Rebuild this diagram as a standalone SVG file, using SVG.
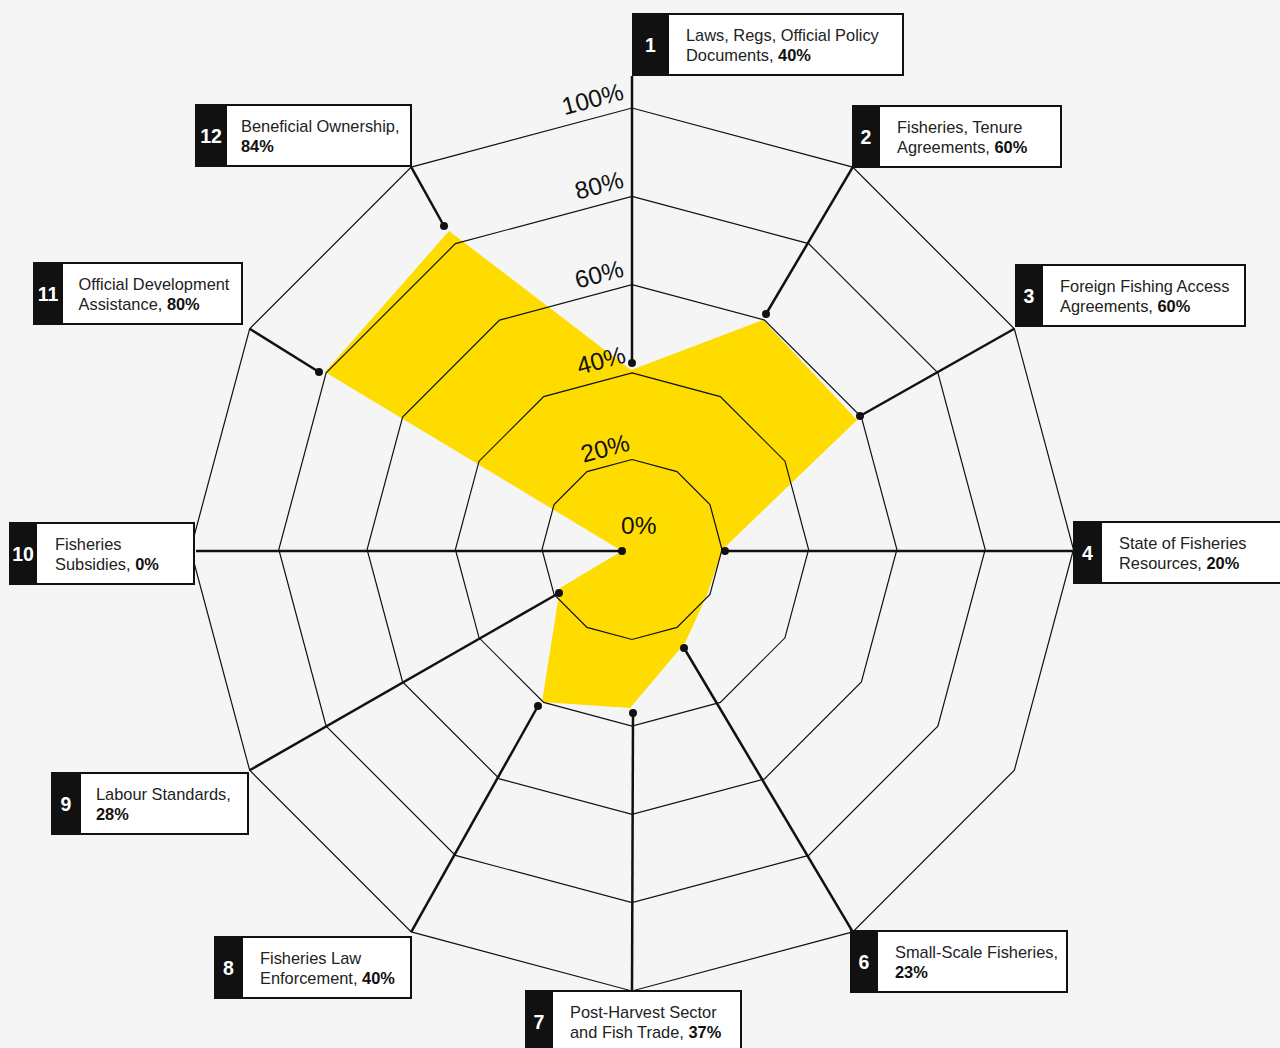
<svg xmlns="http://www.w3.org/2000/svg" width="1280" height="1048" viewBox="0 0 1280 1048">
<style>
.ring{fill:none;stroke:#111;stroke-width:1.2}
.lead{stroke:#111;stroke-width:2.5;fill:none}
.dot{fill:#111}
.bx{fill:#fff;stroke:#111;stroke-width:2}
.nb{fill:#111}
.nt{font-family:"Liberation Sans",Arial,sans-serif;font-weight:bold;font-size:19.5px;fill:#fff;text-anchor:middle}
.lt{font-family:"Liberation Sans",Arial,sans-serif;font-size:16.4px;fill:#222}
.lt tspan.b{font-weight:bold;fill:#111}
.pc{font-family:"Liberation Sans",Arial,sans-serif;font-size:24.5px;fill:#111}
</style>
<rect x="0" y="0" width="1280" height="1048" fill="#f5f5f5"/>
<polygon id="data-area" fill="#ffdc00" points="631,370 763,320 857,420 722,550 707,595 685,643 630,708 542,702 560,588 622,551 325,372 449,231"/>
<g id="grid">
<polygon class="ring" points="632,108 852.75,167.16 1014.34,328.75 1073.5,549.5 1014.34,770.25 852.75,931.84 632,991 411.25,931.84 249.66,770.25 190.5,549.5 249.66,328.75 411.25,167.16"/>
<polygon class="ring" points="632,196.3 808.6,243.63 937.87,372.9 985.2,549.5 937.87,726.1 808.6,855.37 632,902.7 455.4,855.37 326.13,726.1 278.8,549.5 326.13,372.9 455.4,243.63"/>
<polygon class="ring" points="632,284.6 764.45,320.1 861.4,417.05 896.9,549.5 861.4,681.95 764.45,778.9 632,814.4 499.55,778.9 402.6,681.95 367.1,549.5 402.6,417.05 499.55,320.1"/>
<polygon class="ring" points="632,372.9 720.3,396.56 784.94,461.2 808.6,549.5 784.94,637.8 720.3,702.44 632,726.1 543.7,702.44 479.06,637.8 455.4,549.5 479.06,461.2 543.7,396.56"/>
<polygon class="ring" points="632,459.5 677,471.56 709.94,504.5 722,549.5 709.94,594.5 677,627.44 632,639.5 587,627.44 554.06,594.5 542,549.5 554.06,504.5 587,471.56"/>
</g>
<g id="scale-labels">
<text class="pc" text-anchor="end" x="625" y="99" transform="rotate(-15 625 99)">100%</text>
<text class="pc" text-anchor="end" x="625" y="187" transform="rotate(-15 625 187)">80%</text>
<text class="pc" text-anchor="end" x="625" y="276" transform="rotate(-15 625 276)">60%</text>
<text class="pc" text-anchor="end" x="627" y="362" transform="rotate(-15 627 362)">40%</text>
<text class="pc" text-anchor="end" x="631" y="450" transform="rotate(-15 631 450)">20%</text>
<text class="pc" x="621" y="534">0%</text>
</g>
<g id="connectors">
<line class="lead" x1="632" y1="363" x2="632" y2="76"/>
<line class="lead" x1="766" y1="314" x2="852.75" y2="167.16"/>
<line class="lead" x1="860" y1="416" x2="1014.34" y2="328.75"/>
<line class="lead" x1="725" y1="551" x2="1073.5" y2="551"/>
<line class="lead" x1="684" y1="648" x2="852.75" y2="931.84"/>
<line class="lead" x1="633" y1="713" x2="632" y2="990"/>
<line class="lead" x1="538" y1="706" x2="411.25" y2="931.84"/>
<line class="lead" x1="559" y1="593" x2="249.66" y2="770.25"/>
<line class="lead" x1="622" y1="551" x2="196" y2="551"/>
<line class="lead" x1="319" y1="372" x2="249.66" y2="328.75"/>
<line class="lead" x1="444" y1="226" x2="411.25" y2="167.16"/>
<circle class="dot" cx="632" cy="363" r="4"/>
<circle class="dot" cx="766" cy="314" r="4"/>
<circle class="dot" cx="860" cy="416" r="4"/>
<circle class="dot" cx="725" cy="551" r="4"/>
<circle class="dot" cx="684" cy="648" r="4"/>
<circle class="dot" cx="633" cy="713" r="4"/>
<circle class="dot" cx="538" cy="706" r="4"/>
<circle class="dot" cx="559" cy="593" r="4"/>
<circle class="dot" cx="622" cy="551" r="4"/>
<circle class="dot" cx="319" cy="372" r="4"/>
<circle class="dot" cx="444" cy="226" r="4"/>
</g>
<g id="node-1">
<rect class="bx" x="633" y="14" width="270" height="61"/>
<rect class="nb" x="632" y="13" width="37" height="63"/>
<text class="nt" x="650.5" y="52">1</text>
<text class="lt" x="686" y="40.5">Laws, Regs, Official Policy</text>
<text class="lt" x="686" y="60.5">Documents, <tspan class="b">40%</tspan></text>
</g>
<g id="node-2">
<rect class="bx" x="853" y="106" width="208" height="61"/>
<rect class="nb" x="852" y="105" width="28" height="63"/>
<text class="nt" x="866" y="144">2</text>
<text class="lt" x="897" y="132.5">Fisheries, Tenure</text>
<text class="lt" x="897" y="152.5">Agreements, <tspan class="b">60%</tspan></text>
</g>
<g id="node-3">
<rect class="bx" x="1016" y="265" width="229" height="61"/>
<rect class="nb" x="1015" y="264" width="28" height="63"/>
<text class="nt" x="1029" y="303">3</text>
<text class="lt" x="1060" y="291.5">Foreign Fishing Access</text>
<text class="lt" x="1060" y="311.5">Agreements, <tspan class="b">60%</tspan></text>
</g>
<g id="node-4">
<rect class="bx" x="1074" y="522" width="220" height="61"/>
<rect class="nb" x="1073" y="521" width="29" height="63"/>
<text class="nt" x="1087.5" y="560">4</text>
<text class="lt" x="1119" y="548.5">State of Fisheries</text>
<text class="lt" x="1119" y="568.5">Resources, <tspan class="b">20%</tspan></text>
</g>
<g id="node-6">
<rect class="bx" x="851" y="931" width="216" height="61"/>
<rect class="nb" x="850" y="930" width="28" height="63"/>
<text class="nt" x="864" y="969">6</text>
<text class="lt" x="895" y="957.5">Small-Scale Fisheries,</text>
<text class="lt" x="895" y="977.5"><tspan class="b">23%</tspan></text>
</g>
<g id="node-7">
<rect class="bx" x="526" y="991" width="215" height="61"/>
<rect class="nb" x="525" y="990" width="28" height="63"/>
<text class="nt" x="539" y="1029">7</text>
<text class="lt" x="570" y="1017.5">Post-Harvest Sector</text>
<text class="lt" x="570" y="1037.5">and Fish Trade, <tspan class="b">37%</tspan></text>
</g>
<g id="node-8">
<rect class="bx" x="215" y="937" width="196" height="61"/>
<rect class="nb" x="214" y="936" width="29" height="63"/>
<text class="nt" x="228.5" y="975">8</text>
<text class="lt" x="260" y="963.5">Fisheries Law</text>
<text class="lt" x="260" y="983.5">Enforcement, <tspan class="b">40%</tspan></text>
</g>
<g id="node-9">
<rect class="bx" x="52" y="773" width="196" height="61"/>
<rect class="nb" x="51" y="772" width="30" height="63"/>
<text class="nt" x="66" y="811">9</text>
<text class="lt" x="96" y="799.5">Labour Standards,</text>
<text class="lt" x="96" y="819.5"><tspan class="b">28%</tspan></text>
</g>
<g id="node-10">
<rect class="bx" x="10" y="523" width="184" height="61"/>
<rect class="nb" x="9" y="522" width="28" height="63"/>
<text class="nt" x="23" y="561">10</text>
<text class="lt" x="55" y="549.5">Fisheries</text>
<text class="lt" x="55" y="569.5">Subsidies, <tspan class="b">0%</tspan></text>
</g>
<g id="node-11">
<rect class="bx" x="34" y="263" width="208" height="61"/>
<rect class="nb" x="33" y="262" width="30" height="63"/>
<text class="nt" x="48" y="301">11</text>
<text class="lt" x="78.5" y="289.5">Official Development</text>
<text class="lt" x="78.5" y="309.5">Assistance, <tspan class="b">80%</tspan></text>
</g>
<g id="node-12">
<rect class="bx" x="196" y="105" width="215" height="61"/>
<rect class="nb" x="195" y="104" width="32" height="63"/>
<text class="nt" x="211" y="143">12</text>
<text class="lt" x="241" y="131.5">Beneficial Ownership,</text>
<text class="lt" x="241" y="151.5"><tspan class="b">84%</tspan></text>
</g>
</svg>
